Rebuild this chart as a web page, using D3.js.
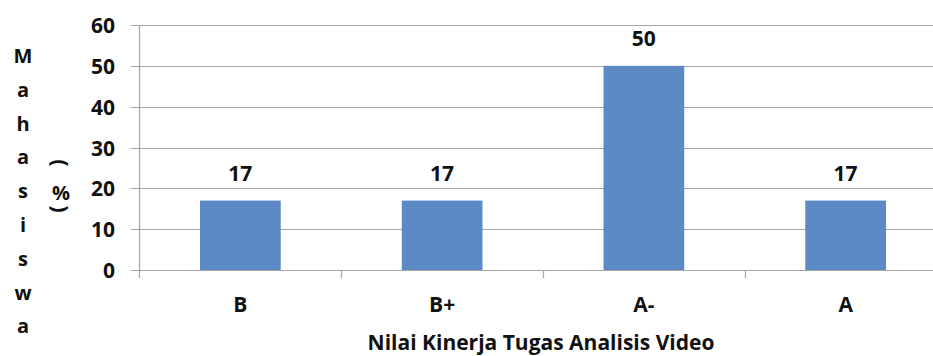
<!DOCTYPE html>
<html><head><meta charset="utf-8">
<script src="https://cdn.jsdelivr.net/npm/d3@7"></script>
<style>body{margin:0;background:#fff}svg{display:block}text{font-family:"Open Sans",Lato,sans-serif;font-weight:bold;fill:#111}</style>
</head><body><svg id="c" width="933" height="356"></svg>
<script>
const categories = ["B", "B+", "A-", "A"];
const values = [17, 17, 50, 17];
const yTicks = [0, 10, 20, 30, 40, 50, 60];
const xTitle = "Nilai Kinerja Tugas Analisis Video";
const yTitleLetters = ["M","a","h","a","s","i","s","w","a"];

const svg = d3.select("#c");
const x = d3.scaleBand().domain(categories).range([139.5, 946.5]).paddingInner(0.6).paddingOuter(0.3);
const y = d3.scaleLinear().domain([0, 60]).range([270, 25]);

// gridlines
svg.append("g").selectAll("line").data(yTicks).join("line")
  .attr("x1", 131).attr("x2", 946).attr("y1", d => Math.round(y(d)) + 0.5).attr("y2", d => Math.round(y(d)) + 0.5)
  .attr("stroke", "#a6a6a6").attr("stroke-width", 1.2);
// y axis line
svg.append("line").attr("x1", 139.5).attr("x2", 139.5).attr("y1", 25).attr("y2", 278)
  .attr("stroke", "#a6a6a6").attr("stroke-width", 1.2);
// category boundary ticks
svg.append("g").selectAll("line").data(categories.slice(1)).join("line")
  .attr("x1", d => Math.round(x(d) - x.step() * 0.3) + 0.5).attr("x2", d => Math.round(x(d) - x.step() * 0.3) + 0.5)
  .attr("y1", 270).attr("y2", 278).attr("stroke", "#a6a6a6").attr("stroke-width", 1.2);

// bars
svg.append("g").selectAll("rect").data(values).join("rect")
  .attr("x", (d, i) => x(categories[i])).attr("width", x.bandwidth())
  .attr("y", d => y(d)).attr("height", d => y(0) - y(d)).attr("fill", "#5b8ac5");

// value labels
svg.append("g").selectAll("text").data(values).join("text")
  .attr("x", (d, i) => x(categories[i]) + x.bandwidth() / 2).attr("y", d => y(d) - 19.5)
  .attr("text-anchor", "middle").attr("font-size", 21).text(d => d);

// y tick labels
svg.append("g").selectAll("text").data(yTicks).join("text")
  .attr("x", 115).attr("y", d => y(d) + 8).attr("text-anchor", "end").attr("font-size", 21).text(d => d);

// category labels
svg.append("g").selectAll("text").data(categories).join("text")
  .attr("x", d => x(d) + x.bandwidth() / 2).attr("y", 312).attr("text-anchor", "middle").attr("font-size", 21).text(d => d);

// x title
svg.append("text").attr("x", 541).attr("y", 350).attr("text-anchor", "middle").attr("font-size", 21).text(xTitle);

// y title stacked
svg.append("g").selectAll("text").data(yTitleLetters).join("text")
  .attr("x", 23).attr("y", (d, i) => 63 + i * 33.8).attr("text-anchor", "middle").attr("font-size", 20).text(d => d);

// (%) stacked
svg.append("text").attr("transform", "translate(59,163) rotate(90)").attr("text-anchor", "middle").attr("dy", "0.26em").attr("font-size", 22).text("(");
svg.append("text").attr("x", 61).attr("y", 200).attr("text-anchor", "middle").attr("font-size", 20).text("%");
svg.append("text").attr("transform", "translate(59,209) rotate(90)").attr("text-anchor", "middle").attr("dy", "0.26em").attr("font-size", 22).text(")");
</script></body></html>
